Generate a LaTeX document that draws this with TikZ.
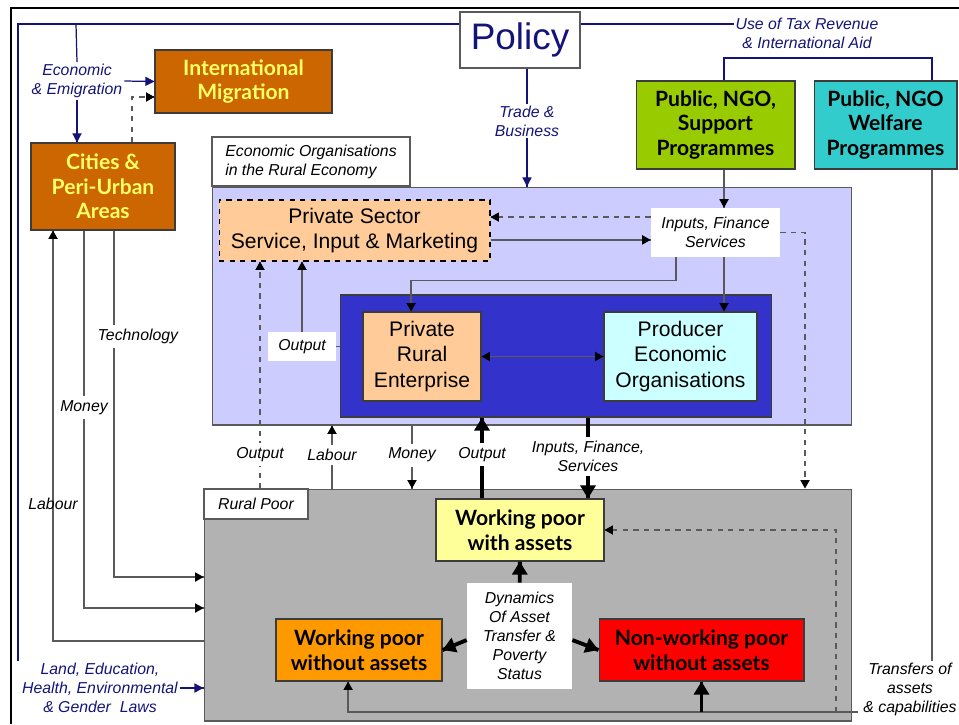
\documentclass[tikz,border=0pt]{standalone}
\usepackage{fontspec}
\setmainfont{Liberation Sans}
\newfontfamily\headfont{Lato}
\usepackage{tikz}
\usetikzlibrary{arrows.meta}
\usetikzlibrary{decorations.markings}
\usetikzlibrary{calc}
\definecolor{mnavy}{RGB}{20, 20, 120}
\definecolor{mline}{RGB}{90, 90, 90}
\definecolor{mborder}{RGB}{60, 60, 60}
\definecolor{mlilac}{RGB}{204, 204, 255}
\definecolor{mdeep}{RGB}{51, 51, 204}
\definecolor{mpeach}{RGB}{255, 204, 153}
\definecolor{maqua}{RGB}{204, 255, 255}
\definecolor{mgrey}{RGB}{178, 178, 178}
\definecolor{mlemon}{RGB}{255, 255, 153}
\definecolor{morange}{RGB}{255, 153, 0}
\definecolor{mred}{RGB}{255, 0, 0}
\definecolor{mbrown}{RGB}{204, 102, 0}
\definecolor{myellow}{RGB}{255, 255, 102}
\definecolor{mgreen}{RGB}{153, 204, 0}
\definecolor{mteal}{RGB}{51, 204, 204}
\tikzset{box/.style = {draw=mborder, line width=0.6pt, align=center, inner sep=0pt}}
\tikzset{headbox/.style = {box, font=\headfont\bfseries\fontsize{12}{14}\selectfont}}
\tikzset{plainbox/.style = {box, font=\fontsize{12}{14.4}\selectfont}}
\tikzset{lbl/.style = {font=\itshape\fontsize{9}{10.8}\selectfont, align=center, inner sep=1pt}}
\tikzset{lblw/.style = {lbl, fill=white, inner sep=2.5pt}}
\tikzset{ln/.style = {draw=mline, line width=0.8pt}}
\tikzset{navyln/.style = {draw=mnavy, line width=0.7pt}}
\tikzset{arr/.style = {ln, decoration={markings,
                                       mark=at position 1 with {\arrow{Triangle[length=4.8pt, width=5.2pt, color=black]}}},
                       postaction={decorate}}}
\tikzset{arrs/.style = {ln, decoration={markings,
                                        mark=at position 0 with {\arrowreversed{Triangle[length=4.8pt, width=5.2pt, color=black]}},
                                        mark=at position 1 with {\arrow{Triangle[length=4.8pt, width=5.2pt, color=black]}}},
                        postaction={decorate}}}
\tikzset{dasharr/.style = {arr, dashed}}
\tikzset{navyarr/.style = {navyln, decoration={markings,
                                               mark=at position 1 with {\arrow{Triangle[length=5.2pt, width=5.2pt, color=mnavy]}}},
                           postaction={decorate}}}
\tikzset{fatarr/.style = {draw=black, line width=2.2pt, decoration={markings,
                                                                   mark=at position 1 with {\arrow{Triangle[length=7.4pt, width=8.5pt]}}},
                          postaction={decorate}}}

\begin{document}
\begin{tikzpicture}[x=0.02cm, y=-0.02cm]
  \useasboundingbox (0,0) rectangle (959,724);
  \draw [line width=1.4pt] (11,724) -- (11,8) -- (959,8);

  % areas
  \node [box, draw=mline, fill=mlilac, minimum width=12.8cm, minimum height=4.76cm] (econ) at (532,306) {};
  \node [box, draw=mline, fill=mgrey, minimum width=12.96cm, minimum height=4.64cm] (rural) at (528,605) {};
  \node [box, draw=mline, fill=white, lbl, align=left, inner sep=0pt, minimum width=3.96cm, minimum height=0.98cm] (econtag) at (311,161.5) {Economic Organisations\\in the Rural Economy};
  \node [box, draw=mline, fill=white, lbl, inner sep=0pt, minimum width=2.08cm, minimum height=0.6cm] (ruraltag) at (256,504) {Rural Poor};
  \node [box, fill=mdeep, minimum width=8.64cm, minimum height=2.44cm] (darkblue) at (556,356) {};

  % boxes
  \node [box, draw=mline, fill=white, minimum width=2.4cm, minimum height=1.12cm, font=\fontsize{21}{24}\selectfont, text=mnavy] (policy) at (520,40) {Policy};
  \node [headbox, fill=mbrown, text=myellow, minimum width=3.54cm, minimum height=1.26cm] (intmig) at (243.5,81.5) {International\\Migration};
  \node [headbox, fill=mbrown, text=myellow, minimum width=2.88cm, minimum height=1.74cm] (cities) at (103,186.5) {Cities \&\\Peri-Urban\\Areas};
  \node [headbox, fill=mgreen, minimum width=3.18cm, minimum height=1.76cm] (support) at (715.5,125) {Public, NGO,\\Support\\Programmes};
  \node [headbox, fill=mteal, minimum width=2.86cm, minimum height=1.76cm] (welfare) at (885.5,125) {Public, NGO\\Welfare\\Programmes};
  \node [plainbox, dashed, draw=black, fill=mpeach, minimum width=5.42cm, minimum height=1.22cm] (private) at (354.5,230.5) {Private Sector\\Service, Input \& Marketing};
  \node [plainbox, fill=mpeach, minimum width=2.36cm, minimum height=1.78cm] (enterprise) at (422,356.5) {Private\\Rural\\Enterprise};
  \node [plainbox, fill=maqua, minimum width=3.06cm, minimum height=1.78cm] (producer) at (680.5,356.5) {Producer\\Economic\\Organisations};
  \node [lbl, fill=white, minimum width=2.58cm, minimum height=0.98cm] (inputs) at (715.5,232.5) {Inputs, Finance\\Services};
  \node [lbl, fill=white, minimum width=1.36cm, minimum height=0.58cm] (outlbl) at (302,346.5) {Output};
  \node [headbox, fill=mlemon, minimum width=3.36cm, minimum height=1.24cm] (withassets) at (520,530) {Working poor\\with assets};
  \node [headbox, fill=morange, minimum width=3.32cm, minimum height=1.24cm] (without) at (359,650) {Working poor\\without assets};
  \node [headbox, fill=mred, minimum width=4.1cm, minimum height=1.24cm] (nonworking) at (701.5,650) {Non-working poor\\without assets};
  \node [lbl, fill=white, minimum width=2.1cm, minimum height=2.12cm] (dynamics) at (519.5,636) {Dynamics\\Of Asset\\Transfer \&\\Poverty\\Status};

  % free labels
  \node [lbl, text=mnavy] (emig) at (77,81) {Economic\\\& Emigration};
  \node [lbl, text=mnavy] (trade) at (527,121) {Trade \&\\Business};
  \node [lbl, text=mnavy] (taxrev) at (807,33) {Use of Tax Revenue\\\& International Aid};
  \node [lbl, text=mnavy] (laws) at (100,688) {Land, Education,\\Health, Environmental\\\& Gender\ \ Laws};
  \node [lbl] (transfers) at (910,689) {Transfers of\\assets\\\& capabilities};

  \coordinate (tl) at (18,24);
  \coordinate (emigtop) at (76,24);
  \coordinate (feed) at (724,58);
  \coordinate (wfeed) at (932,58);
  \coordinate (mig) at (132,97);
  \coordinate (lab) at (53,641);
  \coordinate (mon) at (84,608);
  \coordinate (tech) at (114,577);
  \coordinate (xout) at (260,0);
  \coordinate (xlabour) at (332,0);
  \coordinate (xmoney) at (412,0);
  \coordinate (xfat) at (482,0);
  \coordinate (xinp) at (588,0);
  \coordinate (xdsh) at (805,0);
  \coordinate (tbase) at (858,712);
  \coordinate (dbase) at (836,712);

  % policy links
  \draw [navyln] (policy.west |- tl) -- (tl) -- (tl |- laws.north);
  \draw [navyln] (emigtop) -- (emig.north);
  \draw [navyarr] (emig.south) -- (emig.south |- cities.north);
  \draw [navyarr] (emig.east) -- (intmig.west);
  \draw [navyarr] (laws.east) -- (laws.east -| rural.west);
  \draw [navyln] (policy.east |- tl) -- (taxrev.west |- tl);
  \draw [navyln] (feed |- support.north) -- (feed) -- (wfeed) -- (wfeed |- welfare.north);
  \draw [navyln] (trade.north |- policy.south) -- (trade.north);
  \draw [navyarr] (trade.south) -- (trade.south |- econ.north);

  % cities
  \draw [dasharr] (cities.north -| mig) |- (intmig.west |- mig);
  \draw [arr] (rural.west |- lab) -| node [lbl, pos=0.667] (labA) {Labour} (cities.south -| lab);
  \draw [arr] (cities.south -| mon) |- node [lblw, pos=0.235] (monA) {Money} (rural.west |- mon);
  \draw [arr] (cities.south -| tech) |- node [lblw, pos=0.153, xshift=13.6pt] (techA) {Technology} (rural.west |- tech);

  % economic organisations
  \draw [arr] (feed |- support.south) -- (feed |- inputs.north);
  \draw [arr] (feed |- inputs.south) -- (feed |- producer.north);
  \draw [dasharr] ([yshift=8.8pt]inputs.west) -- ([yshift=8.8pt]inputs.west -| private.east);
  \draw [arr] ([yshift=-4.2pt]inputs.west -| private.east) -- ([yshift=-4.2pt]inputs.west);
  \draw [arr] ([xshift=-22.4pt]inputs.south) -- ++(0,23) -| ([xshift=-6.2pt]enterprise.north);
  \draw [dasharr] (inputs.east) -| (rural.north -| xdsh);
  \draw [arrs] (enterprise) -- (producer);
  \draw [ln] (outlbl.east) -- (outlbl.east -| darkblue.west);
  \draw [arr] (outlbl.north) -- (outlbl.north |- private.south);

  % between the two areas
  \draw [dasharr] (rural.north -| xout) -- node [lblw, pos=0.15] (outA) {Output} (private.south -| xout);
  \draw [arr] (rural.north -| xlabour) -- node [lblw, pos=0.53] (labB) {Labour} (econ.south -| xlabour);
  \draw [arr] (econ.south -| xmoney) -- node [lblw, pos=0.47] (monB) {Money} (rural.north -| xmoney);
  \draw [fatarr] (withassets.north -| xfat) -- node [lblw, pos=0.54] (outC) {Output} (darkblue.south -| xfat);
  \draw [fatarr] (darkblue.south -| xinp) -- node [lblw, pos=0.48] (inpC) {Inputs, Finance,\\Services} (withassets.north -| xinp);

  % rural poor
  \draw [ln] (wfeed |- welfare.south) -- (wfeed |- transfers.north);
  \draw [arr] (tbase) -| ([xshift=-6.2pt]without.south);
  \draw [fatarr] (nonworking.south |- tbase) -- (nonworking.south);
  \draw [dasharr] (dbase) |- (withassets.east);
  \draw [fatarr] (dynamics) -- (withassets);
  \draw [fatarr] ([yshift=-2.3pt]dynamics.west) -- (without.east);
  \draw [fatarr] ([yshift=-2.3pt]dynamics.east) -- (nonworking.west);
\end{tikzpicture}
\end{document}
